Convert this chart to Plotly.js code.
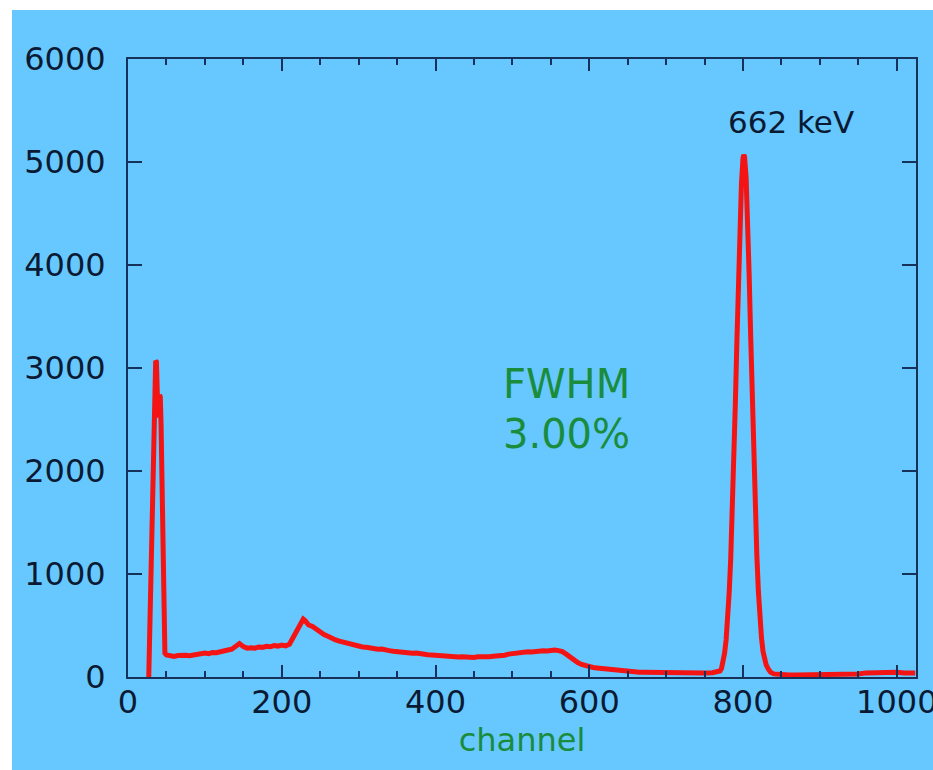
<!DOCTYPE html>
<html>
<head>
<meta charset="utf-8">
<script src="https://cdn.plot.ly/plotly-3.0.1.min.js"></script>
<style>
  html, body { margin: 0; padding: 0; background: #ffffff; }
  #chart { position: absolute; left: 12px; top: 10px; width: 921px; height: 760px; }
</style>
</head>
<body>
<div id="chart"></div>
<script>
// Cs-137 pulse-height spectrum: counts per channel
const channels = [
  27, 29, 31, 33, 35, 36, 37, 38, 39, 40, 41, 42, 43, 44, 45, 46, 47, 48,
  50, 55, 60, 65, 70, 75, 80, 85, 90, 95, 100, 105, 110, 115, 120, 125, 130, 135,
  140, 145, 150, 155, 160, 165, 170, 175, 180, 185, 190, 195, 200, 205, 210, 215,
  220, 225, 228, 230, 235, 240, 245, 250, 255, 260, 265, 270, 275, 280, 285, 290,
  295, 300, 305, 310, 315, 320, 325, 330, 335, 340, 345, 350, 355, 360, 365, 370,
  375, 380, 385, 390, 395, 400, 405, 410, 415, 420, 425, 430, 435, 440, 445, 450,
  455, 460, 465, 470, 475, 480, 485, 490, 495, 500, 505, 510, 515, 520, 525, 530,
  535, 540, 545, 550, 555, 560, 565, 570, 575, 580, 585, 590, 595, 600, 605, 610,
  615, 620, 625, 630, 636, 640, 645, 650, 657, 665, 670, 680, 690, 700, 710, 720,
  730, 744, 750, 760, 765, 770, 772, 774, 776, 778, 780, 782, 784, 786, 788, 790,
  792, 794, 796, 798, 800, 801, 802, 804, 806, 808, 810, 812, 814, 816, 818, 820,
  822, 824, 826, 828, 830, 833, 836, 840, 845, 850, 860, 870, 880, 890, 900, 910,
  920, 930, 940, 950, 960, 970, 980, 990, 1000, 1010, 1020, 1024
];
const counts = [
  0, 700, 1500, 2300, 2900, 3070, 3060, 2850, 2520, 2600, 2740, 2720, 2450, 1850, 1150, 620, 320, 230,
  215, 205, 200, 208, 203, 210, 207, 216, 220, 225, 232, 226, 238, 235, 248, 252, 262, 270,
  300, 325, 295, 280, 284, 280, 292, 288, 298, 293, 305, 300, 310, 302, 318, 390,
  470, 535, 562, 550, 505, 490, 462, 430, 412, 395, 372, 360, 348, 338, 326, 318,
  304, 298, 292, 288, 280, 276, 270, 272, 260, 256, 250, 245, 240, 236, 233, 230,
  233, 224, 220, 216, 214, 210, 205, 202, 204, 196, 199, 194, 197, 192, 194, 190,
  196, 193, 199, 196, 202, 204, 208, 212, 222, 228, 234, 238, 242, 245, 243, 250,
  248, 255, 252, 258, 262, 256, 246, 222, 190, 160, 140, 122, 108, 98, 92, 88,
  84, 78, 72, 66, 58, 56, 53, 50, 48, 46, 45, 43, 42, 40, 40, 39,
  38, 39, 40, 42, 48, 58, 82, 140, 230, 360, 560, 820, 1150, 1560, 2050, 2650,
  3250, 3850, 4400, 4800, 5040, 5070, 5050, 4850, 4450, 3900, 3300, 2700, 2100, 1600, 1180, 830,
  560, 380, 250, 170, 120, 75, 45, 30, 25, 22, 20, 19, 20, 18, 20, 19,
  20, 22, 24, 30, 40, 44, 46, 42, 45, 40, 42, 40
];

const xTickVals = [0, 200, 400, 600, 800, 1000];
const yTickVals = [0, 1000, 2000, 3000, 4000, 5000, 6000];
const peakLabel = '662 keV';
const fwhmLines = ['FWHM', '3.00%'];
const xLabel = 'channel';

const ink = '#0b1a33';
const axisLine = '#16325a';
const green = '#1a8c3c';
const tickFont = { family: 'DejaVu Sans, sans-serif', size: 32, color: ink };

const trace = {
  x: channels,
  y: counts,
  type: 'scatter',
  mode: 'lines',
  line: { color: '#f51414', width: 5 },
  hoverinfo: 'x+y'
};

const layout = {
  width: 921,
  height: 760,
  margin: { l: 116, r: 17, t: 49, b: 93 },
  paper_bgcolor: '#66c8ff',
  plot_bgcolor: '#66c8ff',
  showlegend: false,
  xaxis: {
    range: [0, 1025],
    tickvals: xTickVals,
    ticktext: xTickVals.map(String),
    ticks: 'inside',
    ticklen: 12,
    tickwidth: 2,
    tickcolor: axisLine,
    minor: { dtick: 50, tick0: 0, ticks: 'inside', ticklen: 6, tickwidth: 2, tickcolor: axisLine, showgrid: false },
    showline: true,
    linecolor: axisLine,
    linewidth: 2,
    mirror: 'ticks',
    showgrid: false,
    zeroline: false,
    tickfont: tickFont,
    ticklabelstandoff: -4,
    ticklabeloverflow: 'allow',
    title: { text: xLabel, font: { family: 'DejaVu Sans, sans-serif', size: 32, color: green }, standoff: 2 }
  },
  yaxis: {
    range: [0, 6000],
    tickvals: yTickVals,
    ticktext: yTickVals.map(String),
    ticks: 'inside',
    ticklen: 14,
    tickwidth: 2,
    tickcolor: axisLine,
    showline: true,
    linecolor: axisLine,
    linewidth: 2,
    mirror: 'ticks',
    showgrid: false,
    zeroline: false,
    tickfont: tickFont,
    ticklabelstandoff: 14
  },
  annotations: [
    {
      x: 863, y: 5390, xref: 'x', yref: 'y',
      text: peakLabel, showarrow: false,
      font: { family: 'DejaVu Sans, sans-serif', size: 31, color: ink }
    },
    {
      x: 485, y: 2840, xref: 'x', yref: 'y', xanchor: 'left',
      text: fwhmLines[0], showarrow: false,
      font: { family: 'DejaVu Sans, sans-serif', size: 40, color: green }
    },
    {
      x: 485, y: 2360, xref: 'x', yref: 'y', xanchor: 'left',
      text: fwhmLines[1], showarrow: false,
      font: { family: 'DejaVu Sans, sans-serif', size: 40, color: green }
    }
  ]
};

Plotly.newPlot('chart', [trace], layout, { displayModeBar: false, staticPlot: true });
</script>
</body>
</html>
